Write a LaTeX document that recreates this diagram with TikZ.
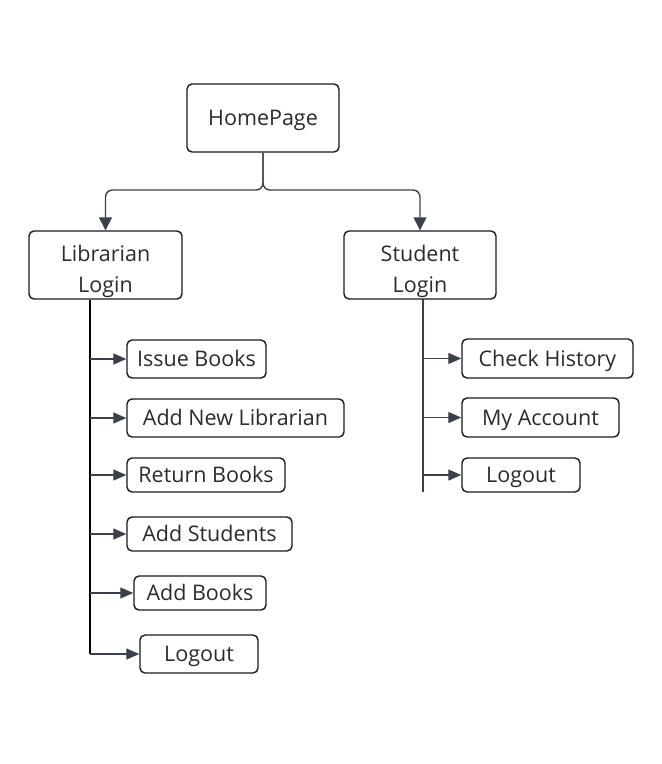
\documentclass[tikz,border=0pt]{standalone}
\usepackage{fontspec}
\setmainfont{Open Sans}
\usetikzlibrary{arrows.meta}
\definecolor{ln}{HTML}{3B414C}
\definecolor{bd}{HTML}{1A1A1A}
\definecolor{tx}{HTML}{2B2B2B}
\tikzset{
  box/.style={draw=bd, line width=1.4pt, rounded corners=5pt, fill=white, inner sep=0pt, text=tx, font=\fontsize{21.5}{31}\selectfont, align=center},
  one/.style={text height=19pt, text depth=3.6pt},
  two/.style={inner ysep=-6pt},
  conn/.style={draw=ln, line width=1.4pt, rounded corners=7pt, -{Triangle[length=13pt,width=13pt]}},
  arr/.style={draw=ln, line width=1.3pt, -{Triangle[length=13pt,width=11pt]}},
  trunk/.style={draw=ln, line width=1.4pt},
  ltrunk/.style={draw=black, line width=2.6pt},
}
\newcommand{\twoline}[2]{\begin{tabular}{@{}c@{}}\rule{0pt}{33.5pt}#1\\#2\end{tabular}}
\begin{document}
\begin{tikzpicture}[x=1pt,y=-1pt]
\useasboundingbox (0,0) rectangle (662,764);
\node[box, one, minimum width=152pt, minimum height=68pt] (home) at (263,118) {HomePage};
\node[box, two, minimum width=153pt, minimum height=68pt] (lib) at (105.5,265) {\twoline{Librarian}{Login}};
\node[box, two, minimum width=152pt, minimum height=68pt] (stu) at (420,265) {\twoline{Student}{Login}};
\coordinate (split) at (263,190);
\draw[conn] (home.south) -- (split) -| (lib.north);
\draw[conn] (home.south) -- (split) -| (stu.north);

% librarian children
\node[box, one, minimum width=139pt, minimum height=38pt] (ib) at (196.5,359) {Issue Books};
\node[box, one, minimum width=217pt, minimum height=38pt] (anl) at (235.5,418) {Add New Librarian};
\node[box, one, minimum width=158pt, minimum height=34pt] (rb) at (206,475) {Return Books};
\node[box, one, minimum width=165pt, minimum height=34pt] (as) at (209.5,534) {Add Students};
\node[box, one, minimum width=132pt, minimum height=34pt] (ab) at (200,593) {Add Books};
\node[box, one, minimum width=118pt, minimum height=38pt] (llo) at (199,654) {Logout};
\coordinate (lt) at (90,300);
\draw[ltrunk] (lt) -- (lt |- llo.west);
\foreach \c in {ib,anl,rb,as,ab,llo} \draw[arr] (lt |- \c.west) -- (\c.west);

% student children
\node[box, one, minimum width=171pt, minimum height=39pt] (ch) at (547.5,358.5) {Check History};
\node[box, one, minimum width=157pt, minimum height=39pt] (ma) at (540.5,417.5) {My Account};
\node[box, one, minimum width=118pt, minimum height=34pt] (slo) at (521,475) {Logout};
\coordinate (st) at (423,299);
\coordinate (stend) at (423,492);
\draw[trunk] (st) -- (stend);
\foreach \c in {ch,ma,slo} \draw[arr] (st |- \c.west) -- (\c.west);
\end{tikzpicture}
\end{document}
